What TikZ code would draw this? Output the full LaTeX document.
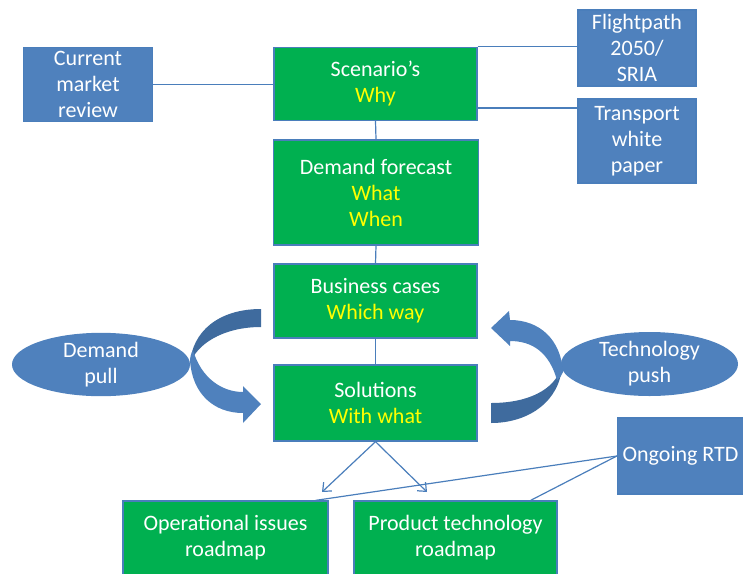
\documentclass[tikz,border=0pt]{standalone}
\usepackage{fontspec}
\setmainfont{Carlito}
\usetikzlibrary{arrows.meta}
\definecolor{bxgreen}{HTML}{00B050}
\definecolor{bxblue}{HTML}{4F81BD}
\definecolor{bxedge}{HTML}{4A7EBB}
\definecolor{bxdark}{HTML}{3F6B9E}
\definecolor{txyel}{HTML}{FFFF00}
\tikzset{
  base/.style={draw=bxedge, line width=1.3pt, text=white, align=center, inner sep=0pt,
    font=\fontsize{22}{26}\selectfont},
  gbox/.style={base, fill=bxgreen},
  bbox/.style={base, fill=bxblue},
  ebox/.style={base, fill=bxblue, ellipse, draw=none},
  conn/.style={draw=bxedge, line width=1.2pt},
  arr/.style={conn, -{Straight Barb[length=7pt,width=12pt,line width=1.2pt]}},
  yl/.style={text=txyel}
}
\usetikzlibrary{shapes.geometric}
\begin{document}
\begin{tikzpicture}[x=1pt,y=-1pt]
\useasboundingbox (0,0) rectangle (743,573);
\clip (0,0) rectangle (743,573);
% nodes
\node[bbox, minimum width=129pt, minimum height=74pt] (cmr) at (88,84.5) {Current\\market\\review};
\node[gbox, minimum width=203pt, minimum height=73pt] (scen) at (375.5,84) {Scenario’s\\\textcolor{txyel}{Why}};
\node[bbox, minimum width=118pt, minimum height=76pt] (flight) at (637,48) {Flightpath\\2050/\\SRIA};
\node[bbox, minimum width=118pt, minimum height=84pt] (trans) at (637,141) {Transport\\white\\paper};
\node[gbox, minimum width=205pt, minimum height=105pt] (dem) at (376,192.5) {Demand forecast\\\textcolor{txyel}{What}\\\textcolor{txyel}{When}};
\node[gbox, minimum width=203pt, minimum height=74pt] (bus) at (375.5,301) {Business cases\\\textcolor{txyel}{Which way}};
\node[gbox, minimum width=203pt, minimum height=76pt] (sol) at (375.5,403) {Solutions\\\textcolor{txyel}{With what}};
\node[ebox, minimum width=178pt, minimum height=63pt] (dpull) at (101,364.5) {Demand\\pull};
\node[ebox, minimum width=177pt, minimum height=64pt] (tpush) at (649.5,364) {Technology\\push};
\node[bbox, minimum width=126pt, minimum height=76pt] (rtd) at (680.5,456) {Ongoing RTD};
\node[gbox, minimum width=205pt, minimum height=74pt] (opr) at (225.5,538) {Operational issues\\roadmap};
\node[gbox, minimum width=203pt, minimum height=74pt] (prd) at (455.5,538) {Product technology\\roadmap};
% connectors
\draw[conn] (cmr.east) -- (cmr.east -| scen.west);
\draw[conn] (scen.north east) -- (scen.north east -| flight.west);
\draw[conn] ([yshift=-24pt]scen.east) coordinate (t1) -- (t1 -| trans.west);
\draw[conn] (scen.south) -- (dem.north);
\draw[conn] (dem.south) -- (bus.north);
\draw[conn] (bus.south) -- (sol.north);
\coordinate (a1) at (322,492);
\coordinate (a2) at (427,492);
\draw[arr] (sol.south) -- (a1);
\draw[arr] (sol.south) -- (a2);
\draw[conn] (rtd.west) -- ([xshift=-13pt]opr.north east);
\draw[conn] (rtd.west) -- ([xshift=-27pt]prd.north east);
% curved arrow left (demand pull)
\fill[bxdark] (261,309) .. controls (218,309) and (192,332) .. (190,364)
  .. controls (196,345) and (222,327) .. (261,327) -- cycle;
\fill[bxblue] (190,360) .. controls (192,394) and (214,413) .. (243,413)
  -- (243,423) -- (261,404) -- (243,386) -- (243,392)
  .. controls (222,392) and (201,378) .. (193,350)
  .. controls (191,354) and (190,357) .. (190,360) -- cycle;
% curved arrow right (technology push)
\fill[bxdark] (491,423) .. controls (530,423) and (560,400) .. (562,366)
  .. controls (555,390) and (528,403) .. (491,403) -- cycle;
\fill[bxblue] (563,372) .. controls (561,340) and (540,320) .. (510,320)
  -- (509,311) -- (491,328) -- (510,346) -- (510,341)
  .. controls (532,341) and (549,352) .. (557,380)
  .. controls (560,378) and (562,375) .. (563,372) -- cycle;
\end{tikzpicture}
\end{document}
